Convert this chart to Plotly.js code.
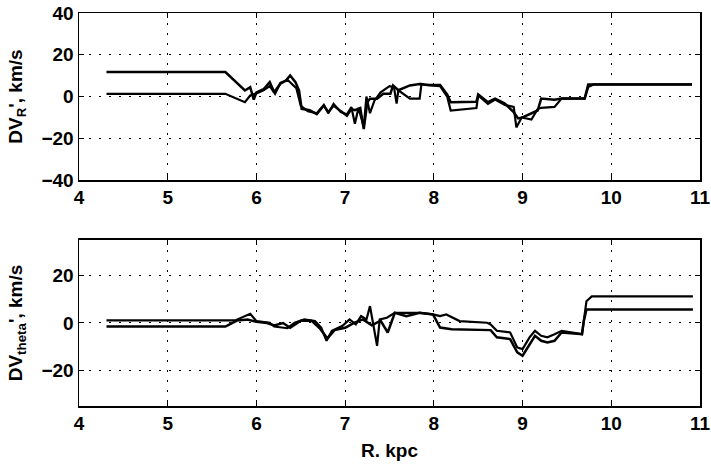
<!DOCTYPE html>
<html><head><meta charset="utf-8">
<script src="https://cdn.plot.ly/plotly-3.0.1.min.js"></script>
<style>body{margin:0;background:#fff}#c{width:711px;height:471px}</style>
</head><body><div id="c"></div>
<script>
// Top panel: DV_R
const rA_x = [4.31,5.65,5.87,5.93,5.97,6.0,6.08,6.15,6.2,6.27,6.33,6.38,6.44,6.48,6.51,6.6,6.68,6.76,6.81,6.87,6.95,7.02,7.07,7.11,7.17,7.21,7.25,7.28,7.36,7.43,7.51,7.54,7.6,7.73,7.84,7.95,8.07,8.15,8.19,8.35,8.48,8.5,8.61,8.69,8.8,8.9,8.95,9.0,9.1,9.17,9.21,9.36,9.44,9.6,9.7,9.74,9.8,10.91];
const rA_y = [11.7,11.7,2.9,4.5,-1.5,2.0,3.5,6.9,2.0,6.1,7.5,10.1,6.9,2.9,-5.9,-6.5,-8.4,-4.3,-7.5,-4.3,-7.0,-9.2,-6.0,-6.5,-5.5,-15.6,-2.7,-1.1,-1.1,1.3,1.3,5.3,3.0,5.3,6.0,5.5,5.5,1.0,-2.7,-2.5,-2.5,1.0,-2.7,-1.0,-3.4,-7.5,-10.5,-10.0,-8.0,-6.7,-1.0,-1.5,-1.0,-1.0,-1.0,5.8,5.8,5.8];
const rB_x = [4.31,5.65,5.87,5.93,6.0,6.08,6.15,6.21,6.27,6.35,6.4,6.45,6.5,6.58,6.68,6.76,6.81,6.87,6.95,7.02,7.07,7.11,7.15,7.21,7.24,7.28,7.33,7.4,7.5,7.55,7.58,7.6,7.73,7.84,7.86,7.9,8.07,8.15,8.19,8.48,8.5,8.61,8.69,8.8,8.9,8.93,8.99,9.1,9.17,9.21,9.36,9.44,9.6,9.7,9.74,9.8,10.91];
const rB_y = [1.3,1.3,-2.7,0.5,1.5,3.0,5.0,1.3,6.5,8.0,6.0,4.0,-4.5,-7.0,-8.0,-4.0,-8.0,-3.5,-7.5,-8.5,-5.0,-13.0,-5.5,-14.5,0.0,-8.0,-2.0,2.0,5.0,4.5,-3.4,3.0,-1.0,-1.0,6.0,5.5,5.0,0.0,-6.7,-5.5,0.5,-3.5,-1.5,-4.0,-5.0,-14.8,-10.0,-11.0,-6.0,-5.4,-5.0,-1.0,-1.0,-1.0,4.5,5.8,5.8];
// Bottom panel: DV_theta
const tA_x = [4.31,5.76,5.93,6.0,6.15,6.2,6.35,6.43,6.54,6.66,6.73,6.79,6.85,6.97,7.05,7.12,7.18,7.24,7.28,7.32,7.36,7.39,7.47,7.56,7.69,7.84,7.99,8.07,8.14,8.29,8.6,8.64,8.71,8.86,8.94,9.0,9.08,9.14,9.21,9.28,9.36,9.44,9.67,9.69,9.72,9.78,10.92];
const tA_y = [1.1,1.1,3.9,0.8,0.1,-1.5,-2.2,0.1,1.5,0.8,-1.9,-7.5,-3.3,-1.2,1.5,-0.6,2.9,1.5,7.1,-1.9,-9.6,1.5,2.2,4.3,4.3,4.3,3.6,2.9,3.6,0.8,0.1,-0.6,-3.3,-4.0,-10.3,-11.0,-6.0,-3.3,-5.4,-6.0,-4.7,-3.3,-4.7,0.8,9.2,11.2,11.2];
const tB_x = [4.31,5.65,5.78,5.9,6.0,6.12,6.2,6.3,6.38,6.5,6.62,6.72,6.8,6.88,7.0,7.1,7.2,7.3,7.4,7.48,7.56,7.69,7.84,7.99,8.07,8.2,8.64,8.71,8.86,8.94,9.0,9.08,9.14,9.21,9.28,9.36,9.44,9.67,9.69,9.72,10.92];
const tB_y = [-1.5,-1.5,1.0,1.5,0.5,0.0,-1.0,0.0,-2.0,1.0,1.0,-2.5,-6.5,-3.0,-2.0,0.0,1.5,-1.0,1.0,-4.0,4.3,2.9,4.3,3.6,-1.9,-2.6,-3.0,-6.0,-6.8,-12.4,-13.8,-8.9,-5.4,-7.5,-8.2,-7.5,-4.0,-4.7,0.8,5.7,5.7];

const xTicks = [4,5,6,7,8,9,10,11];
const yTopTicks = [-40,-20,0,20,40];
const yBotTicks = [-20,0,20];

const tickFont = {family:'Liberation Sans, Arial', size:19, color:'#000', weight:'bold'};
const titleFont = {family:'Liberation Sans, Arial', size:19, color:'#000', weight:'bold'};
const gridCommon = {showgrid:true, gridcolor:'#000', gridwidth:1, griddash:'2px,8px', showline:true, linecolor:'#000', linewidth:1.5, mirror:'allticks', ticks:'inside', ticklen:5, tickcolor:'#000', zeroline:false, tickfont:tickFont};

const line = (x,y,w)=>({x:x,y:y,mode:'lines',line:{color:'#000',width:w},showlegend:false,hoverinfo:'skip'});

const data = [
  Object.assign(line(rA_x,rA_y,2.5),{xaxis:'x',yaxis:'y'}),
  Object.assign(line(rB_x,rB_y,2.2),{xaxis:'x',yaxis:'y'}),
  Object.assign(line(tA_x,tA_y,2.2),{xaxis:'x2',yaxis:'y2'}),
  Object.assign(line(tB_x,tB_y,2.5),{xaxis:'x2',yaxis:'y2'})
];

const layout = {
  width:711, height:471,
  margin:{l:79,r:11,t:13,b:65},
  paper_bgcolor:'#fff', plot_bgcolor:'#fff',
  xaxis:Object.assign({}, gridCommon, {anchor:'y', range:[4,11], tickvals:xTicks, domain:[0,1]}),
  yaxis:Object.assign({}, gridCommon, {anchor:'x', range:[-40,40], tickvals:yTopTicks, domain:[0.575,1],
     title:{text:"DV<sub>R</sub>', km/s", font:titleFont, standoff:14}}),
  xaxis2:Object.assign({}, gridCommon, {anchor:'y2', range:[4,11], tickvals:xTicks, domain:[0,1],
     title:{text:'R. kpc', font:titleFont, standoff:10}}),
  yaxis2:Object.assign({}, gridCommon, {anchor:'x2', range:[-35,35], tickvals:yBotTicks, domain:[0,0.4224],
     title:{text:"DV<sub>theta</sub>', km/s", font:titleFont, standoff:14}})
};
Plotly.newPlot('c', data, layout, {staticPlot:true, displayModeBar:false});
</script></body></html>
